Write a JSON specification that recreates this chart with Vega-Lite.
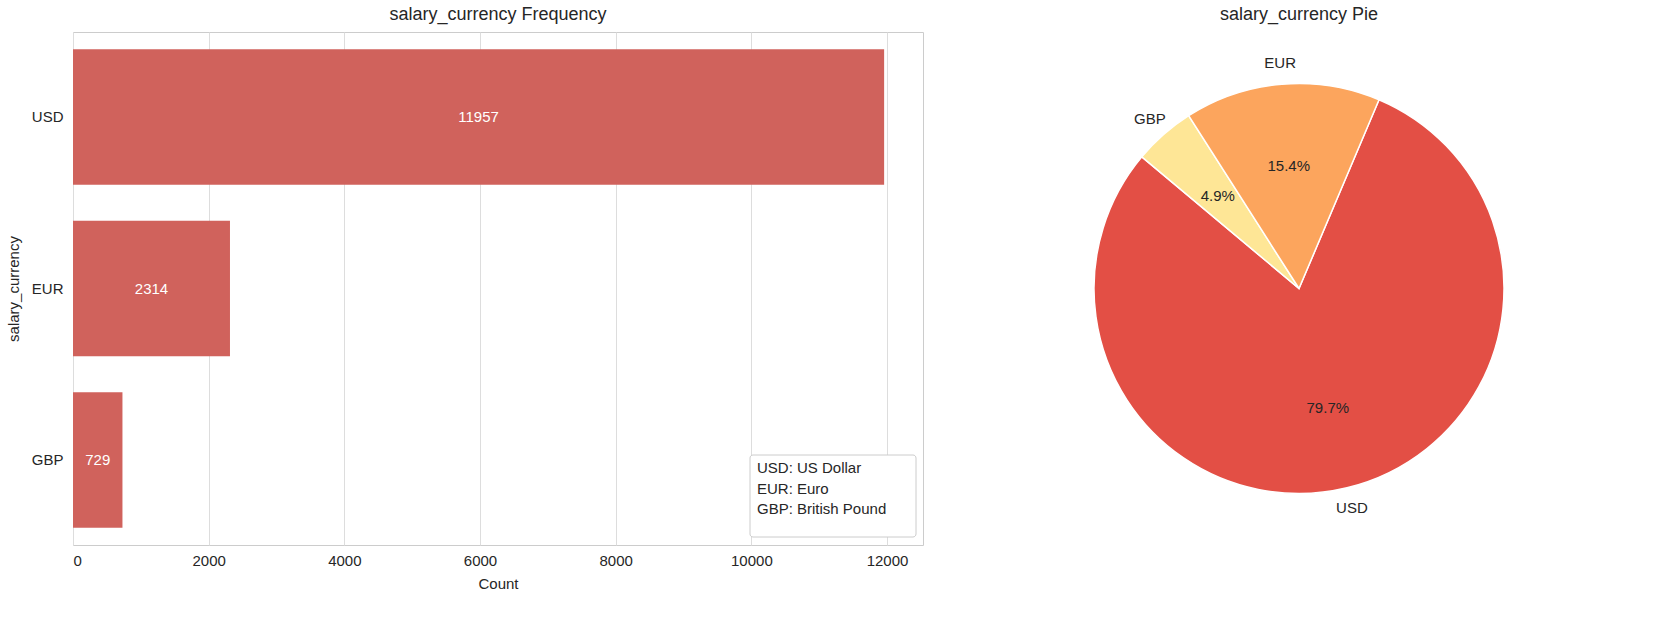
{
  "$schema": "https://vega.github.io/schema/vega-lite/v6.json",
  "background": "white",
  "padding": {"left": 5, "top": 5, "right": 5, "bottom": 5},
  "spacing": 165,
  "config": {
    "font": "Liberation Sans",
    "view": {"stroke": "#cccccc"},
    "title": {"fontSize": 18, "fontWeight": "normal", "color": "#262626", "offset": 8},
    "axis": {"labelFontSize": 15, "titleFontSize": 15, "titleFontWeight": "normal", "labelColor": "#262626", "titleColor": "#262626", "domain": false, "ticks": false}
  },
  "datasets": {
    "cur": [
      {"currency": "USD", "count": 11957, "mid": 5978.5, "pct": "79.7%", "ord": 1},
      {"currency": "GBP", "count": 729, "mid": 364.5, "pct": "4.9%", "ord": 2},
      {"currency": "EUR", "count": 2314, "mid": 1157, "pct": "15.4%", "ord": 3}
    ],
    "legend": [
      {"txt": "USD: US Dollar\nEUR: Euro\nGBP: British Pound"}
    ]
  },
  "hconcat": [
    {
      "title": "salary_currency Frequency",
      "width": 850,
      "height": 513,
      "layer": [
        {
          "data": {"name": "cur"},
          "mark": {"type": "bar", "color": "#d0625c"},
          "encoding": {
            "y": {"field": "currency", "type": "nominal", "sort": ["USD", "EUR", "GBP"], "title": "salary_currency",
              "scale": {"paddingInner": 0.21, "paddingOuter": 0.1}, "axis": {"labelPadding": 10, "titlePadding": 10}},
            "x": {"field": "count", "type": "quantitative", "title": "Count",
              "scale": {"domain": [0, 12530], "nice": false},
              "axis": {"values": [0, 2000, 4000, 6000, 8000, 10000, 12000], "format": "d", "gridColor": "#dddddd", "labelPadding": 8, "titlePadding": 8}}
          }
        },
        {
          "data": {"name": "cur"},
          "mark": {"type": "text", "color": "white", "fontSize": 15},
          "encoding": {
            "y": {"field": "currency", "type": "nominal", "sort": ["USD", "EUR", "GBP"]},
            "x": {"field": "mid", "type": "quantitative"},
            "text": {"field": "count"}
          }
        },
        {
          "data": {"values": [{}]},
          "mark": {"type": "rect", "fill": "white", "stroke": "#cccccc", "cornerRadius": 3, "x": 677, "x2": 843, "y": 423, "y2": 505},
          "encoding": {}
        },
        {
          "data": {"name": "legend"},
          "mark": {"type": "text", "align": "left", "baseline": "middle", "fontSize": 15, "color": "#262626", "x": 684, "y": 436, "lineBreak": "\n", "lineHeight": 20.5},
          "encoding": {"text": {"field": "txt"}}
        }
      ]
    },
    {
      "title": "salary_currency Pie",
      "width": 420,
      "height": 513,
      "data": {"name": "cur"},
      "view": {"stroke": null},
      "encoding": {
        "theta": {"field": "count", "type": "quantitative", "stack": true, "scale": {"range": [0.401, 6.6842]}},
        "order": {"field": "ord"}
      },
      "layer": [
        {
          "mark": {"type": "arc", "outerRadius": 205, "stroke": "white", "strokeWidth": 1.5},
          "encoding": {
            "color": {"field": "currency", "type": "nominal", "legend": null,
              "scale": {"domain": ["USD", "GBP", "EUR"], "range": ["#e34f45", "#fee696", "#fca55d"]}}
          }
        },
        {
          "mark": {"type": "text", "radius": 123, "fontSize": 15, "color": "#262626"},
          "encoding": {"text": {"field": "pct"}}
        },
        {
          "mark": {"type": "text", "radius": 226, "fontSize": 15, "color": "#262626"},
          "encoding": {"text": {"field": "currency"}}
        }
      ]
    }
  ]
}
